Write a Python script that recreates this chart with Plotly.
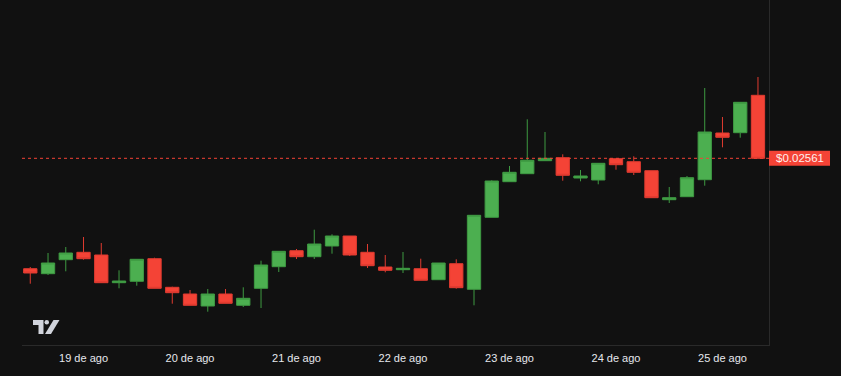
import pandas as pd
import plotly.graph_objects as go

# 4-hour candles, 18 Aug 12:00 -> 25 Aug 08:00
times = list(pd.date_range("2024-08-18 12:00", periods=42, freq="4h"))

opens = [0.023402, 0.023302, 0.023582, 0.023730, 0.023676, 0.023122, 0.023150, 0.023602,
         0.023030, 0.022896, 0.022656, 0.022896, 0.022670, 0.023010, 0.023442, 0.023762,
         0.023642, 0.023856, 0.024056, 0.023730, 0.023436, 0.023382, 0.023402, 0.023182,
         0.023502, 0.022990, 0.024430, 0.025142, 0.025302, 0.025562, 0.025622, 0.025216,
         0.025176, 0.025602, 0.025542, 0.025362, 0.024782, 0.024842, 0.025182, 0.026116,
         0.026122, 0.026870]
highs = [0.023436, 0.023716, 0.023836, 0.024036, 0.023916, 0.023370, 0.023590, 0.023622,
         0.023042, 0.022976, 0.022996, 0.022996, 0.023030, 0.023562, 0.023750, 0.023796,
         0.024182, 0.024090, 0.024056, 0.023896, 0.023676, 0.023736, 0.023602, 0.023516,
         0.023590, 0.024470, 0.025170, 0.025456, 0.026390, 0.026136, 0.025690, 0.025376,
         0.025510, 0.025602, 0.025650, 0.025362, 0.025036, 0.025256, 0.027016, 0.026436,
         0.026730, 0.027236]
lows = [0.023102, 0.023276, 0.023350, 0.023582, 0.023122, 0.023010, 0.023062, 0.023010,
        0.022702, 0.022670, 0.022542, 0.022710, 0.022636, 0.022616, 0.023336, 0.023596,
        0.023596, 0.023702, 0.023656, 0.023416, 0.023330, 0.023316, 0.023170, 0.023182,
        0.023002, 0.022670, 0.024430, 0.025142, 0.025302, 0.025562, 0.025162, 0.025150,
        0.025090, 0.025382, 0.025276, 0.024822, 0.024716, 0.024842, 0.025062, 0.025830,
        0.026022, 0.025610]
closes = [0.023316, 0.023516, 0.023716, 0.023602, 0.023122, 0.023156, 0.023590, 0.023010,
          0.022922, 0.022670, 0.022896, 0.022710, 0.022810, 0.023476, 0.023750, 0.023642,
          0.023896, 0.024056, 0.023676, 0.023462, 0.023370, 0.023410, 0.023170, 0.023516,
          0.023022, 0.024470, 0.025156, 0.025330, 0.025570, 0.025610, 0.025270, 0.025256,
          0.025510, 0.025482, 0.025330, 0.024822, 0.024822, 0.025222, 0.026136, 0.026030,
          0.026730, 0.025610]

last_price = 0.02561
price_label = "$0.02561"
tick_days = ["2024-08-19", "2024-08-20", "2024-08-21", "2024-08-22",
             "2024-08-23", "2024-08-24", "2024-08-25"]
tick_labels = ["19 de ago", "20 de ago", "21 de ago", "22 de ago",
               "23 de ago", "24 de ago", "25 de ago"]

BG = "#111111"
UP = "#4caf50"
UP_LINE = "#3e9a42"
DOWN = "#f44336"
DOWN_LINE = "#e03b30"
TEXT = "#e6e8ee"

W, H = 841, 376
ML, MR, MT, MB = 22, 72, 0, 31
PW, PH = W - ML - MR, H - MT - MB

fig = go.Figure(go.Candlestick(
    x=times, open=opens, high=highs, low=lows, close=closes,
    increasing=dict(fillcolor=UP, line=dict(color=UP_LINE, width=1)),
    decreasing=dict(fillcolor=DOWN, line=dict(color=DOWN_LINE, width=1)),
    whiskerwidth=0, showlegend=False,
))


def px2paper(px, py):
    return (px - ML) / PW, (H - MB - py) / PH


shapes = []
# last-price dotted line
shapes.append(dict(type="line", xref="paper", yref="y", x0=0, x1=1,
                   y0=last_price, y1=last_price,
                   line=dict(color=DOWN, width=1, dash="dot")))
# price label box on right
shapes.append(dict(type="rect", xref="paper", yref="y",
                   x0=1.0, x1=1.0 + 61 / PW,
                   y0=last_price - 0.00015, y1=last_price + 0.00015,
                   fillcolor=DOWN, line=dict(width=0), layer="above"))

# TradingView-like logo (decoration)
LOGO = "#d1d4dc"
def rect_path(pts):
    s = ""
    for i, (a, b) in enumerate(pts):
        x, y = px2paper(a, b)
        s += ("M" if i == 0 else "L") + f"{x:.5f},{y:.5f} "
    return s + "Z"

shapes.append(dict(type="path", xref="paper", yref="paper",
                   path=rect_path([(33, 320), (43.5, 320), (43.5, 334), (38.5, 334),
                                   (38.5, 325), (33, 325)]),
                   fillcolor=LOGO, line=dict(width=0)))
cx0, cy0 = px2paper(44.5, 320)
cx1, cy1 = px2paper(49, 324.5)
shapes.append(dict(type="circle", xref="paper", yref="paper",
                   x0=cx0, x1=cx1, y0=cy1, y1=cy0,
                   fillcolor=LOGO, line=dict(width=0)))
shapes.append(dict(type="path", xref="paper", yref="paper",
                   path=rect_path([(45, 334), (51, 334), (59.5, 320), (53.5, 320)]),
                   fillcolor=LOGO, line=dict(width=0)))

fig.update_layout(
    width=W, height=H,
    margin=dict(l=ML, r=MR, t=MT, b=MB),
    paper_bgcolor=BG, plot_bgcolor=BG,
    boxgap=0.25, boxgroupgap=0,
    shapes=shapes,
    annotations=[dict(xref="paper", yref="y", x=1.0 + 30.5 / PW, y=last_price,
                      text=price_label, showarrow=False, xanchor="center",
                      yanchor="middle",
                      font=dict(color="#fff0ee", size=11.5, family="Liberation Sans"))],
    font=dict(family="Liberation Sans", size=11, color=TEXT),
)
fig.update_xaxes(
    rangeslider_visible=False,
    range=["2024-08-18 10:08", "2024-08-25 10:29"],
    tickvals=tick_days, ticktext=tick_labels,
    showgrid=False, zeroline=False,
    showline=True, linecolor="#2a2a2a", linewidth=1,
    ticks="outside", ticklen=3, tickcolor=BG,
    tickfont=dict(color=TEXT, size=11),
)
fig.update_yaxes(
    range=[0.021876, 0.028776],
    side="right", showgrid=False, zeroline=False,
    showline=True, linecolor="#2a2a2a", linewidth=1,
    showticklabels=False, ticks="",
)

fig.write_html(
    "out.html",
    config={"displayModeBar": False},
    post_script="document.body.style.margin='0';document.body.style.background='#111111';",
)
